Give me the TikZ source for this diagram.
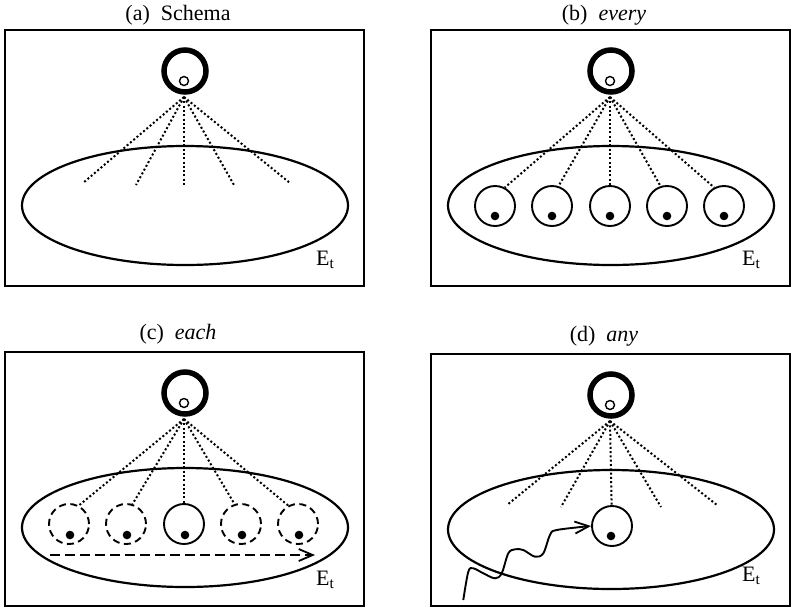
\documentclass[tikz,border=0pt]{standalone}
\usepackage{fontspec}
\setmainfont{Liberation Serif}
\usetikzlibrary{arrows.meta}
\tikzset{
  frame/.style={line width=2.6pt},
  bigc/.style={circle, draw, line width=5.5pt, minimum size=42pt, inner sep=0pt},
  eyec/.style={circle, draw, line width=1.4pt, minimum size=9pt, inner sep=0pt},
  elem/.style={circle, draw, line width=1.9pt, minimum size=40pt, inner sep=0pt},
  ghost/.style={elem, dash pattern=on 7pt off 4.5pt},
  fan/.style={line width=2pt, dash pattern=on 2pt off 2.3pt},
  setline/.style={line width=2.2pt},
  ttl/.style={font=\fontsize{22}{26}\selectfont, inner sep=0pt, anchor=base},
  etl/.style={font=\fontsize{22}{26}\selectfont, inner sep=0pt, anchor=base west},
  barb/.style={-{Straight Barb[length=14pt,width=12pt,line width=1.8pt]}},
}
\newcommand\mypanel[5]{%
  \draw[frame] (0,0) rectangle (359,#2);
  \node[ttl] (#1title) at (173,#5) {#3};
  \draw[setline] (180,175.5) ellipse [x radius=163, y radius=59.5];
  \node[bigc] (#1top) at (180,41) {};
  \node[eyec] (#1eye) at (179,51) {};
  \coordinate (#1f) at (179,67);
  \node[etl] (#1et) at (311,#4) {E\textsubscript{t}};
}
\begin{document}
\begin{tikzpicture}[x=1pt,y=-1pt]
\useasboundingbox (0,0) rectangle (791,611);
% (a)
\begin{scope}[shift={(5,30)}]
  \mypanel{a-}{256}{(a)\ \ Schema}{235}{-10}
  \foreach \x/\y [count=\i] in {78/153,131/155,179/157,229/155,285/153}
    {\coordinate (a-e\i) at (\x,\y); \draw[fan] (a-f) -- (a-e\i);}
\end{scope}
% (b)
\begin{scope}[shift={(431,30)}]
  \mypanel{b-}{256}{(b)\ \ \textit{every}}{235}{-10}
  \foreach \x/\a [count=\i] in {64/62,121/72,179/90,236/108,293/118} {
    \node[elem] (b-c\i) at (\x,176) {};
    \fill (\x,186) circle[radius=4.3pt];
    \draw[fan] (b-f) -- (b-c\i.\a);
  }
\end{scope}
% (c)
\begin{scope}[shift={(5,352)}]
  \mypanel{c-}{254}{(c)\ \ \textit{each}}{233}{-13}
  \foreach \x/\s/\a [count=\i] in {64/ghost/62,121/ghost/72,179/elem/90,236/ghost/108,293/ghost/118} {
    \node[\s] (c-c\i) at (\x,172) {};
    \fill (\x+1,183) circle[radius=4.3pt];
    \draw[fan] (c-f) -- (c-c\i.\a);
  }
  \coordinate (c-s) at (45,203);
  \coordinate (c-t) at (310,203);
  \draw[line width=2pt, dash pattern=on 10pt off 5pt, barb] (c-s) -- (c-t);
\end{scope}
% (d)
\begin{scope}[shift={(431,354)}]
  \mypanel{d-}{252}{(d)\ \ \textit{any}}{227}{-13}
  \node[elem] (d-m) at (181,172) {};
  \fill (180,182) circle[radius=4.3pt];
  \draw[fan] (d-f) -- (d-m);
  \foreach \x/\y [count=\i] in {76/151,130/153,230/153,286/151}
    {\coordinate (d-e\i) at (\x,\y); \draw[fan] (d-f) -- (d-e\i);}
  \coordinate (d-w) at (32.3,246);
  \draw[line width=1.9pt, barb] plot[smooth, tension=0.55] coordinates {
    (d-w) (37.3,217.7) (42.3,214.3) (52.3,219.3) (64,224.3) (70.7,219.3)
    (77.3,199.3) (84,195.3) (92.3,196) (104,202.7) (112.3,199.3)
    (119,181) (125.7,176) (d-m.west)};
\end{scope}
\end{tikzpicture}
\end{document}
